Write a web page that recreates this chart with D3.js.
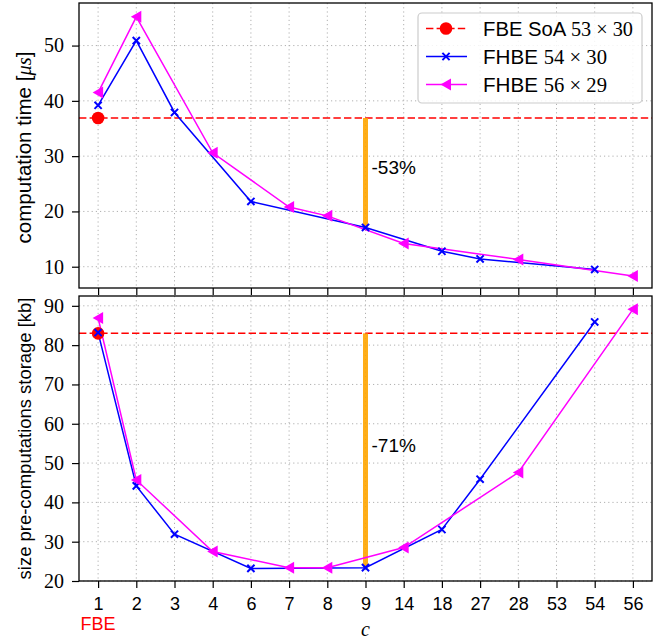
<!DOCTYPE html>
<html>
<head>
<meta charset="utf-8">
<script src="https://cdn.jsdelivr.net/npm/d3@7"></script>
<style>
  body { margin: 0; background: #fff; }
  svg { display: block; }
</style>
</head>
<body>
<div id="chart"></div>
<script>
(function() {
  // values
  var categories = ['1', '2', '3', '4', '6', '7', '8', '9', '14', '18', '27', '28', '53', '54', '56']

  var fbeTime = 36.9
  var fbeStorage = 83.0

  var fhbe54C = ['1', '2', '3', '6', '9', '18', '27', '54']
  var fhbe54Time = [39.2, 50.9, 37.9, 21.8, 17.1, 12.8, 11.4, 9.5]
  var fhbe54Storage = [83.2, 44.2, 31.9, 23.2, 23.4, 33.1, 45.9, 85.9]

  var fhbe56C = ['1', '2', '4', '7', '8', '14', '28', '56']
  var fhbe56Time = [41.5, 55.2, 30.6, 20.8, 19.2, 14.2, 11.3, 8.3]
  var fhbe56Storage = [86.9, 45.7, 27.5, 23.4, 23.4, 28.5, 47.6, 89.1]

  var timeTicks = [10, 20, 30, 40, 50]
  var storageTicks = [20, 30, 40, 50, 60, 70, 80, 90]

  var highlightC = '9'
  var timeLabel = '-53%'
  var storageLabel = '-71%'

  var SANS = '"Liberation Sans", Arial, sans-serif'
  var SERIF = '"Liberation Serif", "Times New Roman", serif'

  var width = 659
  var height = 643
  var left = 79
  var right = 652

  var svg = d3.select('#chart')
    .append('svg')
    .attr('width', width)
    .attr('height', height)

  // scale a text's font size so it spans the width measured on the picture
  function fit(sel, target) {
    var w = sel.node().getComputedTextLength()
    var fs = +sel.attr('font-size')
    sel.attr('font-size', fs * target / w)
  }

  var xPositionScale = d3.scalePoint()
    .domain(categories)
    .range([left, right])
    .padding(0.5)

  var panels = [
    {
      top: 3, bottom: 288, domain: [6.15, 57.7], ticks: timeTicks,
      fbe: fbeTime, blue: fhbe54Time, magenta: fhbe56Time,
      label: ['computation time [', 'μs', ']'], labelLen: 192, pct: timeLabel, pctY: 174
    },
    {
      top: 296, bottom: 581, domain: [20, 92.5], ticks: storageTicks,
      fbe: fbeStorage, blue: fhbe54Storage, magenta: fhbe56Storage,
      label: ['size pre-computations storage [kb]'], labelLen: 282, pct: storageLabel, pctY: 451.5
    }
  ]

  panels.forEach(function(p, i) {
    var yPositionScale = d3.scaleLinear().domain(p.domain).range([p.bottom, p.top])
    var g = svg.append('g')

    // grid
    g.append('g')
      .selectAll('line')
      .data(categories)
      .enter().append('line')
      .attr('x1', d => xPositionScale(d))
      .attr('x2', d => xPositionScale(d))
      .attr('y1', p.top)
      .attr('y2', p.bottom)
      .attr('stroke', '#b0b0b0')
      .attr('stroke-width', 1)
      .attr('stroke-dasharray', '1.2,3')

    g.append('g')
      .selectAll('line')
      .data(p.ticks)
      .enter().append('line')
      .attr('x1', left)
      .attr('x2', right)
      .attr('y1', d => yPositionScale(d))
      .attr('y2', d => yPositionScale(d))
      .attr('stroke', '#b0b0b0')
      .attr('stroke-width', 1)
      .attr('stroke-dasharray', '1.2,3')

    // FBE reference line
    g.append('line')
      .attr('x1', left)
      .attr('x2', right)
      .attr('y1', yPositionScale(p.fbe))
      .attr('y2', yPositionScale(p.fbe))
      .attr('stroke', '#ff0000')
      .attr('stroke-width', 1.5)
      .attr('stroke-dasharray', '7.4,3.2')

    // orange reduction bar
    var blueAt9 = p.blue[fhbe54C.indexOf(highlightC)]
    g.append('rect')
      .attr('x', xPositionScale(highlightC) - 2.5)
      .attr('width', 5)
      .attr('y', yPositionScale(p.fbe))
      .attr('height', yPositionScale(blueAt9) - yPositionScale(p.fbe))
      .attr('fill', '#ffa500')
      .attr('opacity', 0.9)

    g.append('text')
      .attr('x', xPositionScale(highlightC) + 6)
      .attr('y', p.pctY)
      .attr('font-family', SANS)
      .attr('font-size', 19)
      .text(p.pct)

    var line = d3.line()
      .x(d => xPositionScale(d.c))
      .y(d => yPositionScale(d.v))

    var blueData = fhbe54C.map((c, j) => ({ c: c, v: p.blue[j] }))
    var magData = fhbe56C.map((c, j) => ({ c: c, v: p.magenta[j] }))

    g.append('path')
      .datum(blueData)
      .attr('d', line)
      .attr('fill', 'none')
      .attr('stroke', '#0000ff')
      .attr('stroke-width', 1.5)

    g.append('path')
      .datum(magData)
      .attr('d', line)
      .attr('fill', 'none')
      .attr('stroke', '#ff00ff')
      .attr('stroke-width', 1.5)

    // FBE point
    g.append('circle')
      .attr('cx', xPositionScale('1'))
      .attr('cy', yPositionScale(p.fbe))
      .attr('r', 6.3)
      .attr('fill', '#ff0000')

    // blue x markers
    g.append('g')
      .selectAll('path')
      .data(blueData)
      .enter().append('path')
      .attr('transform', d => 'translate(' + xPositionScale(d.c) + ',' + yPositionScale(d.v) + ')')
      .attr('d', 'M-3.6,-3.6L3.6,3.6M-3.6,3.6L3.6,-3.6')
      .attr('stroke', '#0000ff')
      .attr('stroke-width', 2)

    // magenta triangle markers
    g.append('g')
      .selectAll('path')
      .data(magData)
      .enter().append('path')
      .attr('transform', d => 'translate(' + xPositionScale(d.c) + ',' + yPositionScale(d.v) + ')')
      .attr('d', 'M-5.5,0L5,-6L5,6Z')
      .attr('fill', '#ff00ff')

    // axes
    var yAxis = d3.axisLeft(yPositionScale).tickValues(p.ticks).tickSize(7).tickPadding(8)
    var ya = g.append('g')
      .attr('class', 'axis axis-y')
      .attr('transform', 'translate(' + left + ',0)')
      .call(yAxis)
    ya.select('.domain').remove()
    ya.selectAll('line').attr('stroke-width', 1.2)
    ya.selectAll('text').attr('font-size', 20).attr('fill', '#000').attr('font-family', SERIF)

    var xAxis = d3.axisBottom(xPositionScale).tickSize(7).tickPadding(9)
    var xa = g.append('g')
      .attr('class', 'axis axis-x')
      .attr('transform', 'translate(0,' + p.bottom + ')')
      .call(xAxis)
    xa.select('.domain').remove()
    xa.selectAll('line').attr('stroke-width', 1.2)
    xa.selectAll('text').attr('font-size', 18).attr('fill', '#000').attr('font-family', SANS)
    if (i === 0) xa.selectAll('text').remove()

    // frame
    g.append('rect')
      .attr('x', left)
      .attr('y', p.top)
      .attr('width', right - left)
      .attr('height', p.bottom - p.top)
      .attr('fill', 'none')
      .attr('stroke', '#000')
      .attr('stroke-width', 1.3)

    // y label
    var lab = g.append('text')
      .attr('transform', 'translate(31,' + ((p.top + p.bottom) / 2 + (i === 0 ? 2 : 0)) + ') rotate(-90)')
      .attr('text-anchor', 'middle')
      .attr('font-family', SANS)
      .attr('font-size', 18)
    lab.append('tspan').text(p.label[0])
    if (p.label.length > 1) {
      lab.append('tspan').attr('font-family', SERIF).attr('font-style', 'italic').text(p.label[1])
      lab.append('tspan').text(p.label[2])
    }
    fit(lab, p.labelLen)
  })

  // FBE under the first tick
  svg.append('text')
    .attr('x', xPositionScale('1'))
    .attr('y', 630)
    .attr('text-anchor', 'middle')
    .attr('font-family', SANS)
    .attr('font-size', 18)
    .attr('fill', '#ff0000')
    .text('FBE')

  svg.append('text')
    .attr('x', xPositionScale(highlightC))
    .attr('y', 636)
    .attr('text-anchor', 'middle')
    .attr('font-family', SERIF)
    .attr('font-size', 20)
    .attr('font-style', 'italic')
    .text('c')

  // legend
  var legend = svg.append('g')
  legend.append('rect')
    .attr('x', 418)
    .attr('y', 13)
    .attr('width', 224)
    .attr('height', 90)
    .attr('rx', 4)
    .attr('fill', '#fff')
    .attr('fill-opacity', 0.85)
    .attr('stroke', '#cccccc')
    .attr('stroke-width', 1.2)

  var entries = [
    { name: 'FBE SoA ', size: '53 × 30', color: '#ff0000', marker: 'circle', dash: '7.4,3.2', len: 150 },
    { name: 'FHBE ', size: '54 × 30', color: '#0000ff', marker: 'x', dash: null, len: 124 },
    { name: 'FHBE ', size: '56 × 29', color: '#ff00ff', marker: 'tri', dash: null, len: 124 }
  ]

  entries.forEach(function(e, j) {
    var y = 28.5 + j * 28
    legend.append('line')
      .attr('x1', 426).attr('x2', 467)
      .attr('y1', y).attr('y2', y)
      .attr('stroke', e.color)
      .attr('stroke-width', 1.5)
      .attr('stroke-dasharray', e.dash)
    if (e.marker === 'circle') {
      legend.append('circle').attr('cx', 446).attr('cy', y).attr('r', 6.3).attr('fill', e.color)
    } else if (e.marker === 'x') {
      legend.append('path')
        .attr('transform', 'translate(446,' + y + ')')
        .attr('d', 'M-3.6,-3.6L3.6,3.6M-3.6,3.6L3.6,-3.6')
        .attr('stroke', e.color).attr('stroke-width', 2)
    } else {
      legend.append('path')
        .attr('transform', 'translate(446,' + y + ')')
        .attr('d', 'M-5.5,0L5,-6L5,6Z')
        .attr('fill', e.color)
    }
    var t = legend.append('text')
      .attr('x', 483)
      .attr('y', y + 7.5)
      .attr('font-size', 19)
    t.append('tspan').attr('font-family', SANS).text(e.name)
    t.append('tspan').attr('font-family', SERIF).text(e.size)
    fit(t, e.len)
  })
})()
</script>
</body>
</html>
